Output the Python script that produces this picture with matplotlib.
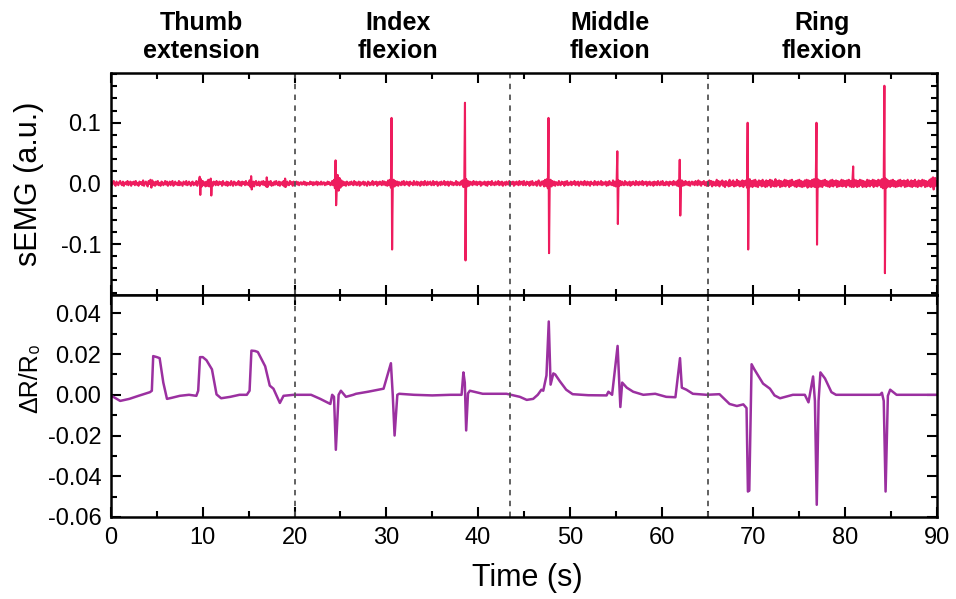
import numpy as np
import matplotlib
matplotlib.use("Agg")
import matplotlib.pyplot as plt
from matplotlib.ticker import MultipleLocator
import matplotlib.transforms as mtransforms

plt.rcParams['font.family'] = ['Liberation Sans', 'DejaVu Sans']

# ---- sEMG: baseline samples (x0.001, evenly spaced over 0-90 s, one row per 5 s) ----
emg_baseline = [
    2,-3,1,4,-2,-4,3,0,-3,2,4,-1,-3,3,-4,1,2,-2,4,-3,0,3,-4,2,-1,3,-3,4,-2,1,-4,3,-1,2,-3,5,-4,1,3,-2,-5,4,-1,6,-7,5,-3,2,-4,3,
    -2,4,-3,1,-4,3,2,-3,-1,4,-2,3,-4,0,3,-3,2,4,-4,-1,3,-2,1,-3,4,-3,2,-1,-4,3,1,-2,4,-3,-2,3,0,-4,2,3,-3,1,-2,4,-4,2,5,-6,7,-5,
    4,-3,2,-5,3,-4,6,-5,4,-3,2,-4,3,1,-3,4,-2,-3,3,-1,2,-4,4,-2,1,-3,3,-4,2,0,-3,4,-1,-4,3,2,-3,1,-2,4,-3,2,-4,3,-1,2,-3,4,-2,1,
    -3,5,-6,7,-4,3,-5,2,4,-3,-2,3,-4,1,3,-2,4,-3,2,-5,6,-5,3,-2,4,-4,1,-3,3,-2,4,-1,-3,3,-4,2,1,-3,4,-5,6,-4,3,-2,-3,4,-1,2,-4,3,
    -2,1,3,-2,2,-3,1,2,-2,-1,3,-2,2,-3,1,0,-2,3,-1,2,-3,2,-2,1,3,-3,2,-1,-2,3,-2,1,2,-3,1,-2,3,-1,2,-3,-2,4,-3,6,-8,11,-9,14,-12,9,
    -7,5,-4,3,-3,2,-4,3,1,-3,2,-2,3,-1,-3,4,-2,2,-3,1,3,-4,2,-2,1,3,-3,2,-1,-4,3,2,-3,1,-2,4,-3,2,-1,3,-4,2,-2,3,-1,-3,4,-2,3,-3,
    2,-4,5,-3,6,-7,9,-8,6,-5,4,-3,3,-4,2,1,-3,3,-2,4,-3,-1,3,-2,2,-4,3,-1,1,-3,4,-2,-2,3,-3,2,1,-4,3,-2,2,-3,4,-1,-3,3,-2,1,3,-3,
    -2,4,-3,2,-1,3,-4,1,2,-3,3,-2,-1,4,-3,2,-2,3,-4,1,3,-2,2,-3,1,-2,4,-3,2,-1,-3,3,-2,5,-6,8,-9,7,-5,4,-4,3,-2,2,-3,4,-1,-2,3,-3,
    2,-1,3,-4,2,-2,1,3,-3,2,-4,3,-1,2,-3,4,-2,1,-3,3,-2,-1,4,-3,2,-2,3,-4,1,2,-3,3,-1,-2,4,-3,2,-1,3,-4,2,-2,3,-1,-3,4,-2,1,3,-3,
    4,-2,-3,3,-1,2,-4,3,-2,4,-3,1,-2,3,-4,2,5,-3,-4,3,-2,4,-5,6,-4,7,-8,9,-7,6,-5,4,-3,3,-4,2,1,-3,4,-2,-3,3,-1,2,-4,3,-2,4,-3,1,
    -2,3,-3,2,-1,4,-3,2,-2,3,-4,1,3,-2,2,-3,4,-1,-3,3,-2,2,-4,3,-1,1,-3,4,-2,2,-3,3,-1,-2,4,-3,2,-2,1,3,-4,2,-3,4,-2,1,-3,5,-4,3,
    -5,6,-7,5,-4,4,-3,3,-2,-3,4,-2,2,-3,1,3,-4,2,-2,3,-1,-3,4,-2,2,-3,3,-1,-2,4,-3,2,-1,3,-4,2,-2,3,-3,1,2,-4,3,-2,2,-3,4,-1,-3,3,
    -2,4,-3,1,-3,3,-2,2,-4,3,-1,2,-3,4,-2,-2,3,-4,5,-5,6,-6,5,-4,3,-3,4,-2,2,-3,3,-4,1,3,-2,2,-3,4,-1,-3,5,-2,3,-4,2,-1,4,-3,2,-4,
    3,-4,5,-2,4,-5,3,-3,2,-4,6,-3,4,-5,3,-2,5,-4,3,-6,4,-3,2,-5,6,-4,3,-3,5,-5,2,-4,6,-3,4,-5,3,-4,5,-6,4,-3,5,-7,8,-9,7,-5,4,-6,
    5,-4,6,-5,3,-6,5,-3,4,-5,6,-4,3,-6,5,-5,4,-3,6,-6,5,-4,3,-5,7,-5,4,-3,5,-6,4,-5,3,-4,6,-5,5,-3,4,-6,5,-4,6,-3,3,-5,4,-6,5,-4,
    6,-5,4,-6,3,-5,5,-4,6,-7,5,-5,4,-6,6,-5,7,-6,8,-9,7,-6,5,-5,4,-6,5,-3,6,-4,4,-5,3,-6,5,-4,6,-5,4,-3,5,-6,4,-5,3,-4,6,-5,5,-4,
    4,-6,5,-3,6,-5,4,-6,8,-5,6,-4,5,-6,4,-5,6,-3,5,-6,4,-5,3,-6,6,-4,5,-5,4,-3,6,-6,5,-4,4,-5,6,-3,5,-6,7,-8,9,-10,8,-7,6,-5,4,-6,
    5,-4,6,-5,4,-6,3,-5,5,-4,6,-5,4,-3,5,-6,4,-5,6,-4,3,-5,5,-6,4,-4,6,-5,3,-6,5,-4,4,-5,6,-3,5,-6,4,-5,3,-4,6,-6,8,-5,5,-6,9,-4,
    3,
]

# ---- sEMG: muscle activation spikes (time, positive peak, negative peak) ----
spike_t = [9.7, 10.9, 15.3, 17.0, 19.0, 24.5, 30.6, 38.6, 47.7, 55.2, 62.0, 69.4, 76.9, 80.9, 84.3, 89.6]
spike_hi = [0.011, 0.008, 0.012, 0.010, 0.008, 0.038, 0.108, 0.133, 0.108, 0.053, 0.039, 0.100, 0.100, 0.028, 0.161, 0.010]
spike_lo = [-0.019, -0.020, -0.010, -0.006, -0.006, -0.036, -0.109, -0.127, -0.115, -0.067, -0.053, -0.109, -0.101, -0.006, -0.148, -0.010]

# ---- Strain sensor response dR/R0 ----
dr_t = [0.0, 0.25, 1.0, 2.0, 3.0, 4.25, 4.45, 4.6, 5.0, 5.3, 5.7, 6.1, 6.6, 7.5, 8.5, 9.3, 9.5, 9.7, 10.0,
        10.4, 11.0, 11.5, 12.0, 13.0, 14.0, 14.8, 15.1, 15.3, 15.7, 16.0, 16.8, 17.3, 17.7, 18.0, 18.4,
        18.8, 19.9, 21.8, 22.8, 23.9, 24.1, 24.3, 24.5, 24.8, 25.05, 25.6, 26.4, 26.7, 28.0, 29.7, 30.0,
        30.5, 30.7, 30.9, 31.2, 31.4, 33.0, 35.0, 37.0, 38.2, 38.4, 38.55, 38.7, 38.9, 39.1, 40.5, 43.1,
        44.55, 45.3, 46.0, 46.5, 46.9, 47.1, 47.45, 47.7, 47.9, 48.2, 48.4, 48.9, 49.6, 50.3, 52.0, 54.0,
        54.2, 54.6, 55.2, 55.5, 55.7, 56.2, 56.9, 58.0, 59.3, 60.5, 61.5, 62.0, 62.2, 62.7, 63.4, 64.9,
        66.3, 67.4, 68.2, 68.9, 69.25, 69.4, 69.55, 69.8, 70.1, 71.05, 71.8, 72.3, 72.9, 74.3, 75.6, 76.0,
        76.5, 76.7, 76.9, 77.1, 77.3, 77.8, 78.5, 79.0, 83.8, 84.0, 84.2, 84.4, 84.65, 84.9, 85.6, 90.0]
dr_v = [-0.0005, -0.001, -0.003, -0.002, -0.0005, 0.0013, 0.002, 0.019, 0.0185, 0.018, 0.006, -0.002,
        -0.0015, -0.0005, 0.0, -0.0005, 0.002, 0.0185, 0.0185, 0.017, 0.0125, 0.0002, -0.0017, -0.001,
        0.0, 0.0, 0.002, 0.0217, 0.0215, 0.021, 0.014, 0.0045, 0.003, 0.0, -0.004, -0.0005, 0.0, 0.0,
        -0.002, -0.0045, 0.0, -0.001, -0.027, 0.0, 0.002, -0.001, 0.0, 0.0005, 0.0015, 0.003, 0.0077,
        0.0155, 0.0, -0.020, 0.0, 0.0005, 0.0, -0.0003, 0.0, 0.0, 0.011, 0.006, -0.0175, 0.0007, 0.002,
        0.0005, 0.0005, -0.001, -0.0025, -0.002, 0.0, 0.0025, 0.002, 0.0095, 0.036, 0.005, 0.0105, 0.010,
        0.0067, 0.0025, 0.0003, -0.0002, -0.0003, 0.0015, 0.0, 0.024, -0.006, 0.006, 0.0035, 0.0015, 0.0,
        0.0005, -0.001, -0.0012, 0.018, 0.0035, 0.0025, 0.0005, 0.0, 0.0003, -0.0045, -0.0055, -0.0047,
        -0.0065, -0.0475, -0.047, 0.015, 0.0125, 0.0055, 0.003, -0.0003, -0.0017, 0.0, 0.0, -0.0037,
        0.009, -0.003, -0.054, -0.003, 0.011, 0.008, 0.0013, 0.0, 0.0, 0.001, -0.003, -0.0475, -0.0005,
        0.0025, 0.0, 0.0]

section_bounds = [20, 43.5, 65]
section_labels = ["Thumb\nextension", "Index\nflexion", "Middle\nflexion", "Ring\nflexion"]
section_centers = [9.9, 31.3, 54.4, 77.5]

# assemble the sEMG trace: baseline plus spikes inserted in time order
base = np.array(emg_baseline, dtype=float) * 1e-3
base_t = np.linspace(0, 90, len(base))
pts_t = list(base_t)
pts_v = list(base)
for t, hi, lo in zip(spike_t, spike_hi, spike_lo):
    pts_t += [t - 0.03, t + 0.03]
    pts_v += [hi, lo]
order = np.argsort(pts_t, kind="stable")
emg_t = np.array(pts_t)[order]
emg_v = np.array(pts_v)[order]

fig = plt.figure(figsize=(9.56, 5.99), dpi=100)
ax1 = fig.add_axes([0.1161, 0.5075, 0.8640, 0.3706])
ax2 = fig.add_axes([0.1161, 0.1369, 0.8640, 0.3706], sharex=ax1)

ax1.plot(emg_t, emg_v, color="#EE1C5E", lw=1.5)
ax2.plot(dr_t, dr_v, color="#9B30A0", lw=1.8)

for ax in (ax1, ax2):
    for xb in section_bounds:
        ax.axvline(xb, color="#555555", lw=1.3, ls=(0, (3, 3)))
    ax.tick_params(which="both", direction="in", top=True, right=True, width=1.5)
    ax.tick_params(which="major", length=7, labelsize=17, pad=7)
    ax.tick_params(which="minor", length=4)
    for sp in ax.spines.values():
        sp.set_linewidth(1.8)

ax1.set_xlim(0, 90)
ax1.xaxis.set_major_locator(MultipleLocator(10))
ax1.xaxis.set_minor_locator(MultipleLocator(5))
ax1.tick_params(labelbottom=False)

ax1.set_ylim(-0.184, 0.182)
ax1.yaxis.set_major_locator(MultipleLocator(0.1))
ax1.yaxis.set_minor_locator(MultipleLocator(0.02))
ax1.set_yticks([-0.1, 0.0, 0.1])
ax1.set_yticklabels(["-0.1", "0.0", "0.1"])

ax2.set_ylim(-0.06, 0.049)
ax2.yaxis.set_major_locator(MultipleLocator(0.02))
ax2.yaxis.set_minor_locator(MultipleLocator(0.01))
ax2.set_yticks([-0.06, -0.04, -0.02, 0.0, 0.02, 0.04])
ax2.set_yticklabels(["-0.06", "-0.04", "-0.02", "0.00", "0.02", "0.04"])

fig.text(29 / 956, 1 - 184 / 599, "sEMG (a.u.)", rotation=90, ha="center", va="center", fontsize=22)
fig.text(30 / 956, 1 - 378 / 599, "ΔR/R₀", rotation=90, ha="center", va="center", fontsize=18)
fig.text(527 / 956, 1 - 578 / 599, "Time (s)", ha="center", va="center", fontsize=22)

trans = mtransforms.blended_transform_factory(ax1.transData, fig.transFigure)
for xc, lab in zip(section_centers, section_labels):
    ax1.text(xc, 1 - 37 / 599, lab, transform=trans, ha="center", va="center",
             fontsize=18, fontweight="bold", linespacing=1.2)

fig.savefig("out.png", dpi=100)
